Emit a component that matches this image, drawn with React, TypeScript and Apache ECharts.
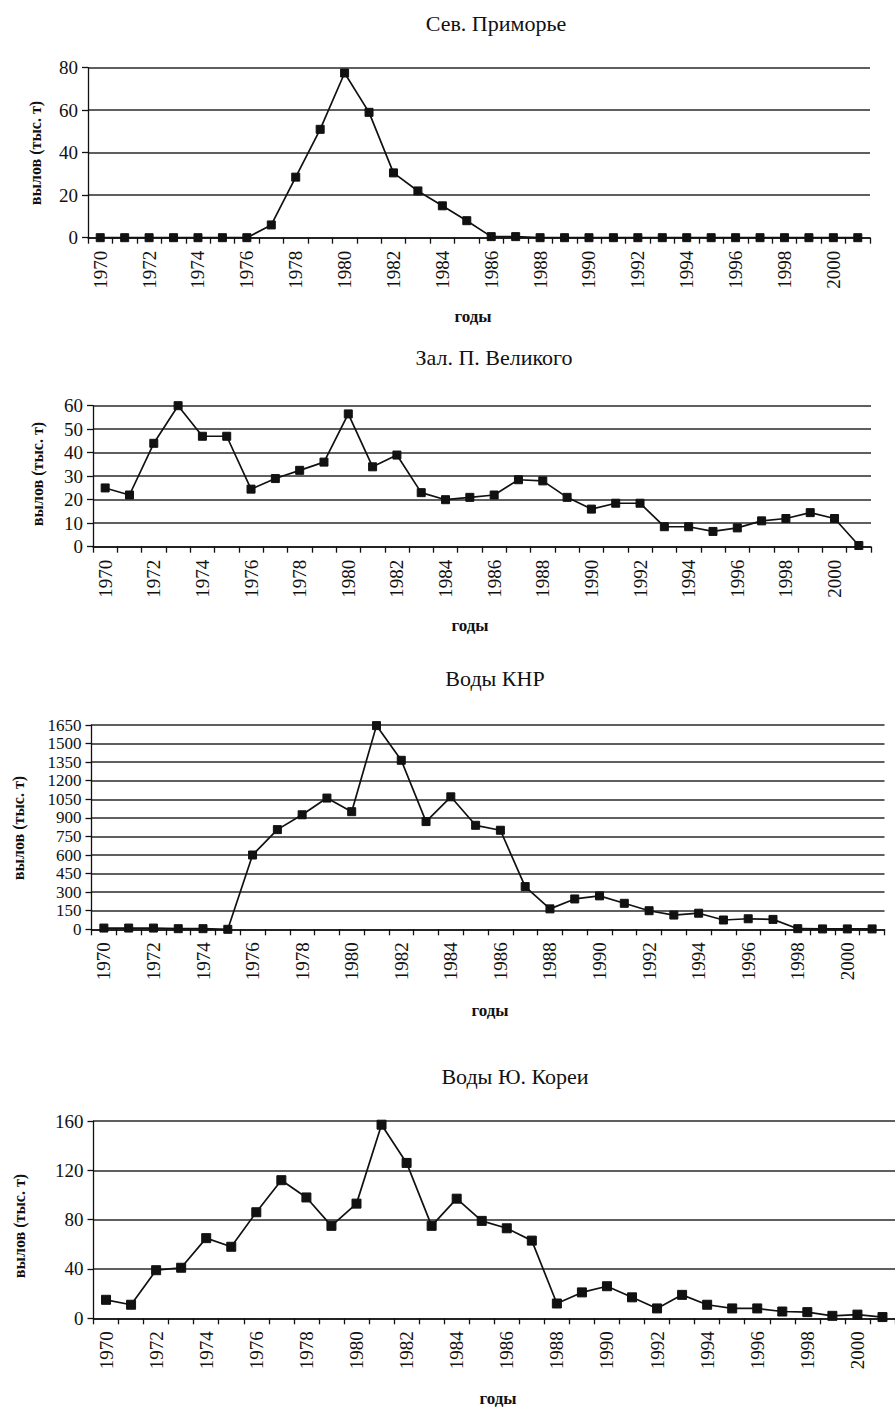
import React, { useEffect, useRef } from "react";
import * as echarts from "echarts";

const years = [
  "1970", "1971", "1972", "1973", "1974", "1975", "1976", "1977", "1978", "1979",
  "1980", "1981", "1982", "1983", "1984", "1985", "1986", "1987", "1988", "1989",
  "1990", "1991", "1992", "1993", "1994", "1995", "1996", "1997", "1998", "1999",
  "2000", "2001",
];

const titles = ["Сев. Приморье", "Зал. П. Великого", "Воды КНР", "Воды Ю. Кореи"];
const yName = "вылов (тыс. т)";
const xName = "годы";

const primorye = [
  0, 0, 0, 0, 0, 0, 0, 6, 28.5, 51,
  77.5, 59, 30.5, 22, 15, 8, 0.5, 0.5, 0, 0,
  0, 0, 0, 0, 0, 0, 0, 0, 0, 0,
  0, 0,
];
const velikogo = [
  25, 22, 44, 60, 47, 47, 24.5, 29, 32.5, 36,
  56.5, 34, 39, 23, 20, 21, 22, 28.5, 28, 21,
  16, 18.5, 18.5, 8.5, 8.5, 6.5, 8, 11, 12, 14.5,
  12, 0.5,
];
const knr = [
  10, 10, 10, 5, 5, 0, 600, 805, 925, 1060,
  950, 1645, 1365, 870, 1070, 840, 800, 345, 165, 245,
  270, 210, 150, 115, 130, 75, 85, 80, 5, 3,
  3, 3,
];
const korea = [
  15, 11, 39, 41, 65, 58, 86, 112, 98, 75,
  93, 157, 126, 75, 97, 79, 73, 63, 12, 21,
  26, 17, 8, 19, 11, 8, 8, 5.5, 5, 2,
  3, 1,
];

const seriesData = [primorye, velikogo, knr, korea];
const yMax = [80, 60, 1650, 160];
const yStep = [20, 10, 150, 40];

// layout (page pixels)
const panels = [
  { left: 88, top: 67.7, width: 782, height: 170, titleX: 491, titleY: 22, nameX: 35, nameY: 153, xNameX: 473, xNameY: 316, sym: 8, ySize: 19 },
  { left: 93, top: 405.7, width: 778, height: 141, titleX: 489, titleY: 356, nameX: 37, nameY: 474, xNameX: 470, xNameY: 625, sym: 8, ySize: 19 },
  { left: 91.5, top: 725, width: 793, height: 204.3, titleX: 490, titleY: 677, nameX: 18, nameY: 828, xNameX: 490, xNameY: 1010, sym: 8, ySize: 17 },
  { left: 93.5, top: 1121, width: 806, height: 197.3, titleX: 510, titleY: 1075, nameX: 19, nameY: 1226, xNameX: 498, xNameY: 1398, sym: 9, ySize: 19 },
];

const FONT = "Liberation Serif";
const INK = "#111";

export default function App() {
  const ref = useRef<HTMLDivElement>(null);

  useEffect(() => {
    if (!ref.current) return;
    const chart = echarts.init(ref.current, undefined, { renderer: "svg" });

    const grid = panels.map((p) => ({
      left: p.left,
      top: p.top,
      width: p.width,
      height: p.height,
      containLabel: false,
    }));

    const xAxis = panels.map((p, i) => ({
      type: "category" as const,
      gridIndex: i,
      data: years,
      boundaryGap: true,
      axisLine: { show: true, onZero: false, lineStyle: { color: INK, width: 1.5 } },
      axisTick: { show: true, interval: 0, length: 6, lineStyle: { color: INK, width: 1.3 } },
      axisLabel: {
        interval: 1,
        rotate: 90,
        margin: 13,
        color: INK,
        fontFamily: FONT,
        fontSize: 19,
        hideOverlap: false,
      },
      splitLine: { show: false },
    }));

    const yAxis = panels.map((p, i) => ({
      type: "value" as const,
      gridIndex: i,
      min: 0,
      max: yMax[i],
      interval: yStep[i],
      axisLine: { show: true, lineStyle: { color: INK, width: 1.3 } },
      axisTick: { show: true, length: 6, lineStyle: { color: INK, width: 1.3 } },
      axisLabel: {
        color: INK,
        fontFamily: FONT,
        fontSize: p.ySize,
        margin: 10,
        showMinLabel: true,
        showMaxLabel: true,
        hideOverlap: false,
        formatter: (v: number) => String(v),
      },
      splitLine: { show: true, lineStyle: { color: "#2a2a2a", width: 1.6 } },
    }));

    const series = seriesData.map((d, i) => ({
      type: "line" as const,
      xAxisIndex: i,
      yAxisIndex: i,
      data: d,
      symbol: "rect",
      symbolSize: panels[i].sym,
      showSymbol: true,
      lineStyle: { color: INK, width: 1.7 },
      itemStyle: { color: INK, borderColor: INK },
      z: 5,
    }));

    const title = panels.map((p, i) => ({
      text: titles[i],
      left: p.titleX,
      top: p.titleY - 15,
      textAlign: "center" as const,
      textStyle: { fontFamily: FONT, fontSize: 22, fontWeight: "normal" as const, color: INK },
    }));

    const graphic: any[] = [];
    panels.forEach((p) => {
      graphic.push({
        type: "text",
        x: p.xNameX,
        y: p.xNameY,
        style: {
          text: xName,
          fontFamily: FONT,
          fontSize: 17,
          fontWeight: "bold",
          fill: INK,
          align: "center",
          verticalAlign: "middle",
        },
      });
      graphic.push({
        type: "text",
        x: p.nameX,
        y: p.nameY,
        rotation: Math.PI / 2,
        style: {
          text: yName,
          fontFamily: FONT,
          fontSize: 16,
          fontWeight: "bold",
          fill: INK,
          align: "center",
          verticalAlign: "middle",
        },
      });
    });

    chart.setOption({
      animation: false,
      backgroundColor: "#ffffff",
      textStyle: { fontFamily: FONT },
      title,
      grid,
      xAxis,
      yAxis,
      series,
      graphic,
    });

    return () => chart.dispose();
  }, []);

  return (
    <div
      ref={ref}
      style={{ position: "absolute", left: 0, top: 0, width: 895, height: 1409, background: "#fff" }}
    />
  );
}
